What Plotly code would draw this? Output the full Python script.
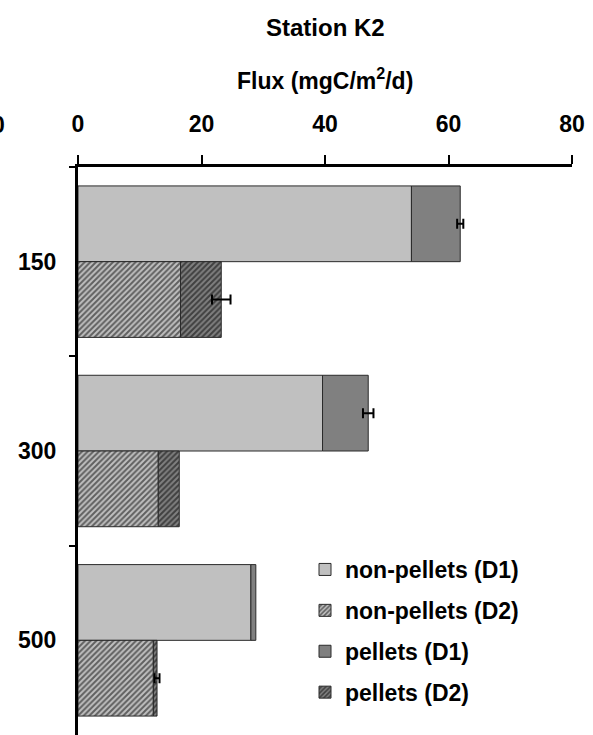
import plotly.graph_objects as go

depths = ["150", "300", "500"]
nonpel_d1 = [54.0, 39.6, 28.0]
pel_d1 = [7.9, 7.4, 0.8]
err_d1 = [0.5, 0.85, None]
nonpel_d2 = [16.6, 13.0, 12.2]
pel_d2 = [6.6, 3.4, 0.6]
err_d2 = [1.5, None, 0.4]
x_ticks = [0, 20, 40, 60, 80]

LIGHT = "#c0c0c0"
DARK = "#808080"
OUT = dict(color="#2a2a2a", width=1)
FAM = "Liberation Sans, Arial"


def f(size):
    return dict(family=FAM, size=size, color="black", weight="bold")


fig = go.Figure()

fig.add_trace(go.Bar(
    y=depths, x=nonpel_d1, orientation="h", name="non-pellets (D1)",
    offsetgroup="D1", legendgroup="a",
    marker=dict(color=LIGHT, line=OUT),
))
fig.add_trace(go.Bar(
    y=depths, x=nonpel_d2, orientation="h", name="non-pellets (D2)",
    offsetgroup="D2", legendgroup="b",
    marker=dict(color=LIGHT, line=OUT,
                pattern=dict(shape="/", fgcolor="black", bgcolor=LIGHT,
                             size=4, solidity=0.5, fillmode="overlay")),
))
fig.add_trace(go.Bar(
    y=depths, x=pel_d1, base=nonpel_d1, orientation="h", name="pellets (D1)",
    offsetgroup="D1", legendgroup="c",
    marker=dict(color=DARK, line=OUT),
))
fig.add_trace(go.Bar(
    y=depths, x=pel_d2, base=nonpel_d2, orientation="h", name="pellets (D2)",
    offsetgroup="D2", legendgroup="d",
    marker=dict(color=DARK, line=OUT,
                pattern=dict(shape="/", fgcolor="black", bgcolor=DARK,
                             size=4, solidity=0.5, fillmode="overlay")),
))

# error bars on totals, only where visible in the original
for grp, npel, pel, err in (("D1", nonpel_d1, pel_d1, err_d1),
                            ("D2", nonpel_d2, pel_d2, err_d2)):
    ys, xs, es = [], [], []
    for d, a, b, e in zip(depths, npel, pel, err):
        if e is not None:
            ys.append(d)
            xs.append(a + b)
            es.append(e)
    fig.add_trace(go.Scatter(
        y=ys, x=xs, mode="markers", orientation="h", offsetgroup=grp,
        marker=dict(size=1, opacity=0), showlegend=False, hoverinfo="skip",
        error_x=dict(type="data", array=es, color="black", thickness=2, width=5),
    ))

PW = 593 - 78 - 21

fig.update_layout(
    width=593, height=735,
    margin=dict(l=78, r=21, t=167, b=0),
    paper_bgcolor="white", plot_bgcolor="white",
    barmode="group", bargap=0.2, bargroupgap=0,
    scattermode="group", scattergap=0.2,
    font=f(22),
    showlegend=True,
    legend=dict(x=(305 - 78) / PW, y=(735 - 548) / 568, xanchor="left", yanchor="top",
                bgcolor="rgba(0,0,0,0)", tracegroupgap=8,
                font=f(23), traceorder="grouped"),
)

fig.update_xaxes(
    side="top", range=[0, 80], tickvals=x_ticks,
    showline=True, linecolor="black", linewidth=3,
    ticks="outside", ticklen=9, tickwidth=2, tickcolor="black",
    showgrid=False, zeroline=False,
    tickfont=f(23),
    ticklabelstandoff=14,
)
fig.update_yaxes(
    autorange="reversed", type="category", categoryorder="array", categoryarray=depths,
    showline=True, linecolor="black", linewidth=3,
    ticks="outside", tickson="boundaries", ticklen=6, tickwidth=2, tickcolor="black",
    showgrid=False, zeroline=False,
    tickfont=f(23),
    ticklabelstandoff=14,
)

fig.add_annotation(text="Station K2", xref="paper", yref="paper", x=0.5, y=1.0,
                   xanchor="center", yanchor="middle", yshift=139.5, showarrow=False,
                   font=f(24))
fig.add_annotation(text="Flux (mgC/m<sup>2</sup>/d)", xref="paper", yref="paper", x=0.5, y=1.0,
                   xanchor="center", yanchor="middle", yshift=88, showarrow=False,
                   font=f(23))
fig.add_annotation(text="0", xref="paper", yref="paper", x=(-1 - 78.3) / PW, y=1.0,
                   xanchor="center", yanchor="middle", yshift=42, showarrow=False,
                   font=f(23))

fig.write_html("out.html")
